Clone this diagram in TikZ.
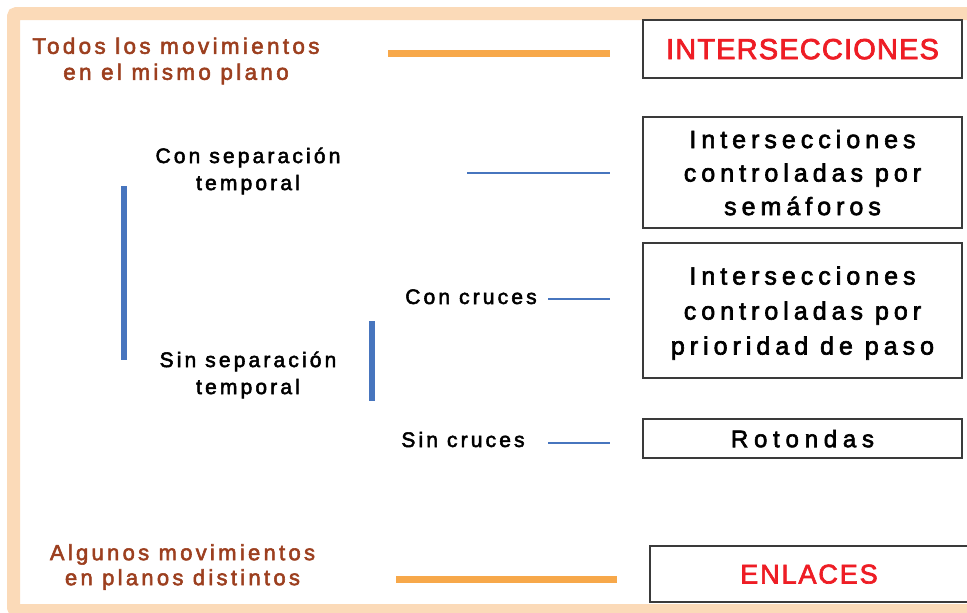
\documentclass[tikz,border=0pt]{standalone}
\usepackage{fontspec}
\setmainfont{Liberation Sans}
\newfontfamily\spA[LetterSpace=15,FakeBold=2.5]{Liberation Sans}
\newfontfamily\spB[LetterSpace=20,FakeBold=2.5]{Liberation Sans}
\newfontfamily\spC[LetterSpace=24,FakeBold=2.5]{Liberation Sans}
\newfontfamily\spD[LetterSpace=4,FakeBold=2.5]{Liberation Sans}
\newfontfamily\spE[LetterSpace=7,FakeBold=2.5]{Liberation Sans}
\usetikzlibrary{positioning}
\definecolor{peach}{HTML}{FBDAB8}
\definecolor{brownish}{HTML}{9C3F1F}
\definecolor{redtext}{HTML}{EE1D25}
\definecolor{orangeline}{HTML}{F7A84A}
\definecolor{blueline}{HTML}{4775BE}
\definecolor{cardline}{HTML}{3A3A3A}

\begin{document}
\begin{tikzpicture}
  [x=1pt,y=-1pt,every node/.style={inner sep=0pt},
   leftlabel/.style={align=center,text=brownish},
   item/.style={align=center},
   card/.style={draw=cardline,line width=1.4pt,fill=white,minimum width=319pt,align=center,text depth=0pt},
   orangebar/.style={draw=orangeline,line width=7pt},
   thinblue/.style={draw=blueline,line width=2.8pt},
   thickblue/.style={draw=blueline,line width=6.5pt}]
  \useasboundingbox (0,0) rectangle (967,613);
  \clip (0,0) rectangle (967,613);
  \draw[draw=peach,line width=13pt,rounded corners=3pt] (13.5,13.5) rectangle (1010,610.5);

  \node[leftlabel,font=\spA\fontsize{22.4}{26}\selectfont] (todos) at (176,61) {Todos los movimientos\\en el mismo plano};
  \node[leftlabel,font=\spA\fontsize{22}{25}\selectfont] (algunos) at (182.5,567) {Algunos movimientos\\en planos distintos};
  \node[item,font=\spA\fontsize{21}{27}\selectfont] (consep) at (248,171) {Con separación\\temporal};
  \node[item,font=\spA\fontsize{21}{27}\selectfont] (sinsep) at (248,375) {Sin separación\\temporal};
  \node[item,anchor=base,font=\spA\fontsize{21}{27}\selectfont] (concruces) at (471,304) {Con cruces};
  \node[item,anchor=base,font=\spA\fontsize{21}{27}\selectfont] (sincruces) at (463,447) {Sin cruces};

  \node[card,text=redtext,minimum height=58pt,font=\spD\fontsize{29}{33}\selectfont] (inter) at (802.5,49) {INTERSECCIONES};
  \node[card,minimum height=111pt,font=\spB\fontsize{25}{33.5}\selectfont] (sema) at (802.5,172.5) {Intersecciones\\controladas por\\semáforos};
  \node[card,minimum height=135pt,font=\spB\fontsize{25}{35}\selectfont] (prio) at (802.5,310.5) {Intersecciones\\controladas por\\prioridad de paso};
  \node[card,minimum height=39pt,font=\spC\fontsize{24}{26}\selectfont] (roto) at (802.5,438.5) {Rotondas};
  \node[card,text=redtext,minimum width=318pt,minimum height=56pt,font=\spE\fontsize{27}{30}\selectfont] (enla) at (809,574) {ENLACES};

  \coordinate (o1) at (388,53);
  \coordinate (o2) at (396,579);
  \coordinate (b1) at (467,173);
  \coordinate (b2) at (548,299);
  \coordinate (b3) at (548,443);

  \foreach \from/\to/\sty in {o1/inter/orangebar,o2/enla/orangebar,b1/sema/thinblue,b2/prio/thinblue,b3/roto/thinblue}
    \draw[\sty,shorten >=32pt] (\from) -- (\to.west |- \from);

  \draw[thickblue] (124,186) -- (124,360);
  \draw[thickblue] (372,321) -- (372,401);

\end{tikzpicture}
\end{document}
